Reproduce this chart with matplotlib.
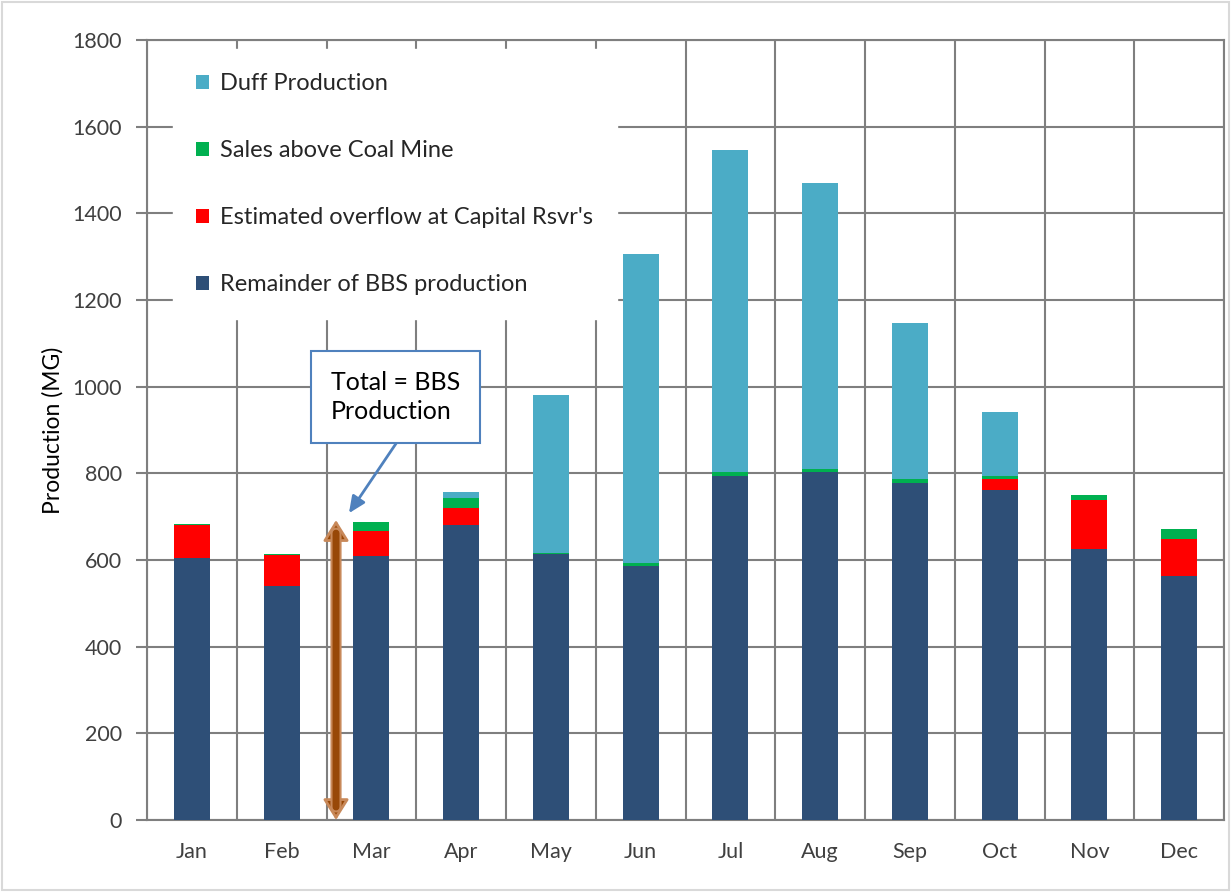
import matplotlib
matplotlib.use("Agg")
import matplotlib.pyplot as plt
import numpy as np
from matplotlib.patches import Rectangle

plt.rcParams['font.family'] = ['Lato', 'DejaVu Sans']

months = ["Jan", "Feb", "Mar", "Apr", "May", "Jun", "Jul", "Aug", "Sep", "Oct", "Nov", "Dec"]
remainder = [604, 539, 610, 681, 614, 587, 794, 802, 778, 761, 625, 562]
overflow = [77, 72, 57, 39, 0, 0, 0, 0, 0, 26, 113, 86]
sales = [3, 2, 21, 24, 3, 7, 8, 9, 10, 8, 11, 24]
duff = [0, 0, 0, 14, 364, 712, 744, 659, 358, 146, 0, 0]
yticks = [0, 200, 400, 600, 800, 1000, 1200, 1400, 1600, 1800]
arrow_total = 692

c_rem = "#2E4F77"
c_over = "#FF0000"
c_sales = "#00B050"
c_duff = "#4BACC6"

W, H = 1231, 892
fig = plt.figure(figsize=(W / 100, H / 100), dpi=100)
ax = fig.add_axes([147 / W, 1 - 820 / H, (1224 - 147) / W, (820 - 40) / H])

x = np.arange(len(months))
bw = 0.40
r = np.array(remainder); o = np.array(overflow); s = np.array(sales); d = np.array(duff)
b1 = ax.bar(x, r, bw, color=c_rem, zorder=3, label="Remainder of BBS production")
b2 = ax.bar(x, o, bw, bottom=r, color=c_over, zorder=3, label="Estimated overflow at Capital Rsvr's")
b3 = ax.bar(x, s, bw, bottom=r + o, color=c_sales, zorder=3, label="Sales above Coal Mine")
b4 = ax.bar(x, d, bw, bottom=r + o + s, color=c_duff, zorder=3, label="Duff Production")

ax.set_xlim(-0.5, len(months) - 0.5)
ax.set_ylim(0, 1800)
ax.set_yticks(yticks)
ax.set_yticklabels([str(v) for v in yticks], fontsize=15.5, color="#404040")
ax.set_xticks(x)
ax.set_xticklabels(months, fontsize=15.5, color="#404040")
ax.tick_params(axis='x', length=0, pad=16)
ax.tick_params(axis='y', length=8, direction='out', color="#7F7F7F", width=1.5, pad=10)
ax.set_xticks(np.arange(-0.5, len(months), 1), minor=True)
ax.tick_params(axis='x', which='minor', length=0)
ax.grid(True, which='minor', axis='x', color="#7F7F7F", lw=1.5, zorder=0)
ax.grid(True, which='major', axis='y', color="#7F7F7F", lw=1.5, zorder=0)
for sp in ax.spines.values():
    sp.set_color("#7F7F7F")
    sp.set_linewidth(1.5)
ax.set_ylabel("Production (MG)", fontsize=16.5, color="black", labelpad=6)

# legend
leg = ax.legend(handles=[b4, b3, b2, b1], loc='upper left', bbox_to_anchor=(0.024, 0.988),
                fontsize=17, frameon=True, fancybox=False, framealpha=1, facecolor="white",
                edgecolor="white", handlelength=0.55, handleheight=0.55, handletextpad=0.45,
                labelspacing=1.95, borderpad=1.0, borderaxespad=0, labelcolor="#262626")
leg.set_zorder(5)

# brown double arrow
ax.annotate("", xy=(1.606, arrow_total), xytext=(1.606, 0),
            arrowprops=dict(arrowstyle="<|-|>,head_length=0.32,head_width=0.2", fc="#984807",
                            ec="#C8895A", lw=2, mutation_scale=40, shrinkA=0, shrinkB=0), zorder=6)
ax.annotate("", xy=(1.606, arrow_total - 30), xytext=(1.606, 30),
            arrowprops=dict(arrowstyle="-", color="#C8895A", lw=8, shrinkA=0, shrinkB=0), zorder=6)
ax.annotate("", xy=(1.606, arrow_total - 30), xytext=(1.606, 30),
            arrowprops=dict(arrowstyle="-", color="#984807", lw=5, shrinkA=0, shrinkB=0), zorder=6)

# callout arrow
ax.annotate("", xy=(1.75, 708), xytext=(2.285, 872),
            arrowprops=dict(arrowstyle="-|>,head_length=1.0,head_width=0.45", color="#4F81BD", lw=2,
                            shrinkA=0, shrinkB=0), zorder=7)
# callout box
ax.text(1.55, 976, "Total = BBS\nProduction", fontsize=18, color="black", ha="left", va="center",
        linespacing=1.35,
        bbox=dict(boxstyle="square,pad=0.8", fc="white", ec="#4F81BD", lw=1.5), zorder=8)

fig.patches.append(Rectangle((2 / W, 2 / H), 1 - 4 / W, 1 - 4 / H, transform=fig.transFigure,
                             fill=False, ec="#D9D9D9", lw=1.5))

fig.savefig("out.png", dpi=100)
